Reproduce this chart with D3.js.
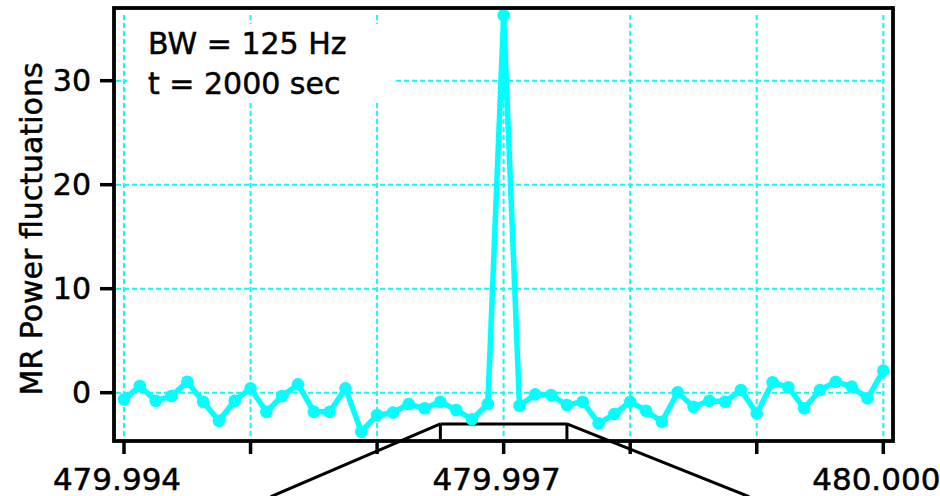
<!DOCTYPE html>
<html>
<head>
<meta charset="utf-8">
<script src="https://cdn.jsdelivr.net/npm/d3@7/dist/d3.min.js"></script>
<style>
  html, body { margin: 0; padding: 0; background: #fff; }
  svg { display: block; }
  text { font-family: "DejaVu Sans", sans-serif; fill: #000; stroke: #000; stroke-width: 0.5px; }
</style>
</head>
<body>
<svg id="chart" width="940" height="496"></svg>
<script>
// ---- data ----
const freqStart = 479.994;
const freqStep = 0.000125;
const power = [
  -0.64, 0.64, -0.77, -0.32, 1.06, -0.87, -2.69, -0.77, 0.42, -1.83,
  -0.32, 0.80, -1.83, -1.83, 0.42, -3.75, -2.15, -1.92, -1.09, -1.50,
  -0.87, -1.67, -2.56, -1.09, 36.3, -1.25, -0.16, -0.22, -1.18, -0.87,
  -2.95, -2.05, -0.87, -1.73, -2.79, 0.04, -1.35, -0.77, -0.87, 0.26,
  -1.99, 1.00, 0.52, -1.50, 0.26, 1.06, 0.58, -0.54, 2.12
];
const xTicks = [479.994, 479.995, 479.996, 479.997, 479.998, 479.999, 480.000];
const xTickLabels = ["479.994", "", "", "479.997", "", "", "480.000"];
const yTicks = [0, 10, 20, 30];
const annotations = ["BW = 125 Hz", "t = 2000 sec"];
const yTitle = "MR Power fluctuations";
const bracketX = [479.9965, 479.9975];
const bracketY = -3;
const zoomLineEnds = [[479.99516, -10], [479.99894, -10]];

const points = power.map((v, i) => ({ f: freqStart + i * freqStep, v }));

// ---- layout ----
const svg = d3.select("#chart");
const frame = { left: 114, right: 893, top: 8, bottom: 441 };
const x = d3.scaleLinear().domain([479.994, 480.000]).range([124, 883.3]);
const y = d3.scaleLinear().domain([0, 30]).range([392.7, 80.7]);
const cyan = "#00FFFF";

// grid lines
const grid = svg.append("g");
grid.selectAll("line.v").data(xTicks).enter().append("line")
  .attr("x1", d => x(d)).attr("x2", d => x(d))
  .attr("y1", 15).attr("y2", frame.bottom - 1)
  .attr("stroke", cyan).attr("stroke-width", 2).attr("stroke-dasharray", "5,3");
grid.selectAll("line.h").data(yTicks).enter().append("line")
  .attr("x1", frame.left + 2).attr("x2", x(480.000) + 1)
  .attr("y1", d => y(d)).attr("y2", d => y(d))
  .attr("stroke", cyan).attr("stroke-width", 2).attr("stroke-dasharray", "5,3");

// annotation box (white background hides grid)
svg.append("rect").attr("x", 127).attr("y", 24).attr("width", 268).attr("height", 77)
  .attr("fill", "#fff");
svg.selectAll("text.ann").data(annotations).enter().append("text")
  .attr("x", 148).attr("y", (d, i) => 54 + i * 40)
  .attr("font-size", 30).text(d => d);

// bracket + zoom lines
const bx0 = x(bracketX[0]), bx1 = x(bracketX[1]), by = y(bracketY);
const bg = svg.append("g").attr("stroke", "#000").attr("stroke-width", 3).attr("fill", "none");
bg.append("line").attr("x1", bx0).attr("x2", bx1).attr("y1", by).attr("y2", by);
bg.append("line").attr("x1", bx0).attr("x2", bx0).attr("y1", by).attr("y2", frame.bottom);
bg.append("line").attr("x1", bx1).attr("x2", bx1).attr("y1", by).attr("y2", frame.bottom);
bg.append("line").attr("x1", bx0).attr("y1", by)
  .attr("x2", x(zoomLineEnds[0][0])).attr("y2", y(zoomLineEnds[0][1]));
bg.append("line").attr("x1", bx1).attr("y1", by)
  .attr("x2", x(zoomLineEnds[1][0])).attr("y2", y(zoomLineEnds[1][1]));

// data line
const line = d3.line().x(d => x(d.f)).y(d => y(d.v));
svg.append("path").datum(points).attr("d", line)
  .attr("fill", "none").attr("stroke", cyan).attr("stroke-width", 5.5)
  .attr("stroke-linejoin", "round");
svg.selectAll("circle.pt").data(points).enter().append("circle")
  .attr("cx", d => x(d.f)).attr("cy", d => y(d.v)).attr("r", 6.3)
  .attr("fill", cyan);

// frame
svg.append("rect").attr("x", frame.left).attr("y", frame.top)
  .attr("width", frame.right - frame.left).attr("height", frame.bottom - frame.top)
  .attr("fill", "none").attr("stroke", "#000").attr("stroke-width", 3.8);

// x axis ticks & labels
const xa = svg.append("g");
xa.selectAll("line").data(xTicks).enter().append("line")
  .attr("x1", d => x(d)).attr("x2", d => x(d))
  .attr("y1", frame.bottom).attr("y2", frame.bottom + 13)
  .attr("stroke", "#000").attr("stroke-width", 3.5);
xa.selectAll("text").data(xTicks).enter().append("text")
  .attr("x", d => x(d) - 7).attr("y", 490)
  .attr("text-anchor", "middle").attr("font-size", 31)
  .text((d, i) => xTickLabels[i]);

// y axis ticks & labels
const ya = svg.append("g");
ya.selectAll("line").data(yTicks).enter().append("line")
  .attr("x1", frame.left - 14).attr("x2", frame.left)
  .attr("y1", d => y(d)).attr("y2", d => y(d))
  .attr("stroke", "#000").attr("stroke-width", 3.5);
ya.selectAll("text").data(yTicks).enter().append("text")
  .attr("x", 91).attr("y", d => y(d) + 10.5)
  .attr("text-anchor", "end").attr("font-size", 30)
  .text(d => d);

// y title
svg.append("text")
  .attr("transform", "translate(42,229) rotate(-90)")
  .attr("text-anchor", "middle").attr("font-size", 30)
  .text(yTitle);
</script>
</body>
</html>
